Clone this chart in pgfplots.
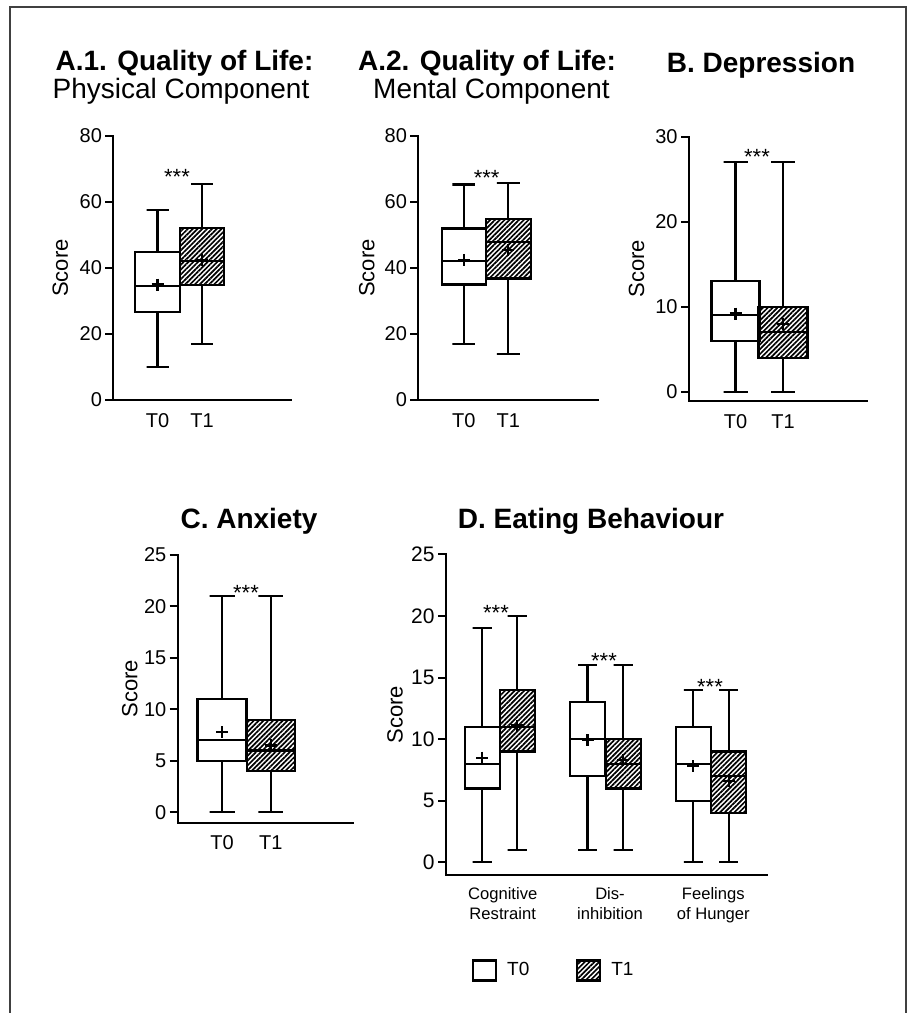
\documentclass[border=0pt]{standalone}
\usepackage{fontspec}
\setmainfont{Liberation Sans}
\usepackage{pgfplots}
\pgfplotsset{compat=1.18}
\usetikzlibrary{patterns.meta}
\def\pxu{0.5bp}
\newcommand\ttlfont{\fontsize{14bp}{17bp}\selectfont}
\tikzset{stars/.style={font=\fontsize{11bp}{13bp}\selectfont, anchor=base, yshift=-6.4bp, inner sep=0pt},
  hatch/.style={pattern={Lines[angle=45,distance=1.7bp,line width=0.85bp]}}}
\pgfplotsset{
  gp/.style={
    scale only axis,
    axis x line*=bottom, axis y line*=left,
    axis line style={line width=1bp, line cap=rect},
    tick style={line width=1bp, black},
    xtick style={draw=none},
    tick align=outside,
    major tick length=4bp,
    /pgf/number format/assume math mode=true,
    tick label style={font=\fontsize{10bp}{12bp}\selectfont},
    yticklabel style={inner sep=1.5bp},
    xticklabel style={inner sep=2bp, text height=7.3bp, text depth=0bp},
    label style={font=\fontsize{11bp}{13bp}\selectfont},
    clip=false,
    xmin=0,
  },
  wl/.style={draw=black, line width=1.1bp, mark=none, solid, forget plot},
  t0/.style={draw=black, line width=1.1bp, mark=none, fill=white, solid, line join=miter, forget plot},
  t1/.style={draw=black, line width=1.1bp, mark=none, solid, line join=miter, forget plot, hatch},
  meanmk/.style={only marks, mark=+, mark size=3bp, black, mark options={line width=1.1bp}, forget plot},
}
% \bx{style}{position}{half box width}{half cap width}{lower whisker}{Q1}{median}{Q3}{upper whisker}
\newcommand\bx[9]{%
  \pgfmathsetmacro\xa{#2-#3}\pgfmathsetmacro\xb{#2+#3}%
  \pgfmathsetmacro\ca{#2-#4}\pgfmathsetmacro\cb{#2+#4}%
  \edef\bxtmp{%
    \noexpand\addplot[wl] coordinates {(#2,#8) (#2,#9) (\ca,#9) (\cb,#9)};
    \noexpand\addplot[wl] coordinates {(#2,#6) (#2,#5) (\ca,#5) (\cb,#5)};
    \noexpand\addplot[#1] coordinates {(\xa,#6) (\xb,#6) (\xb,#8) (\xa,#8)} -- cycle;
    \noexpand\addplot[wl] coordinates {(\xa,#7) (\xb,#7)};
  }\bxtmp}
\newcommand\lgbox[1]{\draw[line width=1.1bp, #1] (0bp,-5bp) rectangle (11.5bp,5bp);}
\begin{document}
\begin{tikzpicture}
\path[use as bounding box] (0,0) rectangle (912*\pxu,-1013*\pxu);
\draw[line width=0.75bp, black!75] (10*\pxu,-1013*\pxu) -- (10*\pxu,-7*\pxu) -- (906*\pxu,-7*\pxu) -- (906*\pxu,-1013*\pxu);

% Titles
\node[font=\ttlfont\bfseries, anchor=base] at (184.5*\pxu,-70*\pxu) {A.1. Quality of Life:};
\node[font=\ttlfont, anchor=base] at (181*\pxu,-98*\pxu) {Physical Component};
\node[font=\ttlfont\bfseries, anchor=base] at (487*\pxu,-70*\pxu) {A.2. Quality of Life:};
\node[font=\ttlfont, anchor=base] at (491.5*\pxu,-98*\pxu) {Mental Component};
\node[font=\ttlfont\bfseries, anchor=base] at (761*\pxu,-72*\pxu) {B. Depression};
\node[font=\ttlfont\bfseries, anchor=base] at (249*\pxu,-528*\pxu) {C. Anxiety};
\node[font=\ttlfont\bfseries, anchor=base] at (591*\pxu,-528*\pxu) {D. Eating Behaviour};

% A.1
\begin{axis}[gp, at={(113.3*\pxu,-400*\pxu)}, anchor=south west,
  width=177.7*\pxu, height=264*\pxu, xmax=177.7, ymin=0, ymax=80,
  ytick={0,20,40,60,80}, xtick={44.2,88.7}, xticklabels={T0,T1},
  ylabel={Score}, ylabel style={at={(axis description cs:0,0.5)}, anchor=center, yshift=26.5bp}]
\bx{t0}{44.2}{22.5}{11}{10}{26.6}{34.5}{44.9}{57.6}
\bx{t1}{88.7}{22}{11}{17}{34.8}{42.1}{52.2}{65.5}
\addplot[meanmk] coordinates {(44.2,35) (88.7,42.5)};
\node[stars] at (axis cs:63.7,69.1) {***};
\end{axis}

% A.2
\begin{axis}[gp, at={(418.3*\pxu,-400*\pxu)}, anchor=south west,
  width=179.4*\pxu, height=264*\pxu, xmax=179.4, ymin=0, ymax=80,
  ytick={0,20,40,60,80}, xtick={45.5,90}, xticklabels={T0,T1},
  ylabel={Score}, ylabel style={at={(axis description cs:0,0.5)}, anchor=center, yshift=25.8bp}]
\bx{t0}{45.5}{22.2}{11.5}{17}{35}{42.2}{52}{65.3}
\bx{t1}{90}{22.4}{11.5}{14}{36.8}{47.8}{54.8}{65.8}
\addplot[meanmk] coordinates {(45.5,42.5) (90,45.5)};
\node[stars] at (axis cs:68.4,68.9) {***};
\end{axis}

% B
\begin{axis}[gp, at={(689*\pxu,-401*\pxu)}, anchor=south west,
  width=177.7*\pxu, height=264.3*\pxu, xmax=177.7, ymin=-1.09, ymax=30,
  ytick={0,10,20,30}, xtick={46.5,94}, xticklabels={T0,T1},
  ylabel={Score}, ylabel style={at={(axis description cs:0,0.5)}, anchor=center, yshift=26.2bp}]
\bx{t0}{46.5}{24}{12}{0}{6}{9}{13}{27}
\bx{t1}{94}{24.5}{12}{0}{4}{7}{10}{27}
\addplot[meanmk] coordinates {(46.5,9.2) (94,8)};
\node[stars] at (axis cs:68,28.2) {***};
\end{axis}

% C
\begin{axis}[gp, at={(177.7*\pxu,-822.7*\pxu)}, anchor=south west,
  width=175.3*\pxu, height=267.7*\pxu, xmax=175.3, ymin=-1.01, ymax=25,
  ytick={0,5,10,15,20,25}, xtick={44.3,93.2}, xticklabels={T0,T1},
  ylabel={Score}, ylabel style={at={(axis description cs:0,0.5)}, anchor=center, yshift=23.9bp}]
\bx{t0}{44.3}{24.5}{12.5}{0}{5}{7}{11}{21}
\bx{t1}{93.2}{24}{12.5}{0}{4}{6}{9}{21}
\addplot[meanmk] coordinates {(44.3,7.8) (93.2,6.5)};
\node[stars] at (axis cs:68.3,21.8) {***};
\end{axis}

% D
\begin{axis}[gp, at={(446*\pxu,-875*\pxu)}, anchor=south west,
  width=320.7*\pxu, height=320.7*\pxu, xmax=320.7, ymin=-1.03, ymax=25,
  ytick={0,5,10,15,20,25}, xtick={56.7,164,267.3},
  xticklabels={{Cognitive\\Restraint},{Dis-\\inhibition},{Feelings\\of Hunger}},
  yticklabel style={font=\fontsize{10.5bp}{12bp}\selectfont},
  xticklabel style={align=center, text height={}, text depth={}, font=\fontsize{8.3bp}{10bp}\selectfont},
  ylabel={Score}, ylabel style={at={(axis description cs:0,0.5)}, anchor=center, yshift=25.5bp},
  legend style={draw=none, fill=none, at={(0.08,-0.298)}, anchor=west, inner sep=0pt,
    font=\fontsize{9.5bp}{11bp}\selectfont,
    /tikz/every odd column/.append style={column sep=3bp},
    /tikz/every even column/.append style={column sep=21.4bp}},
  legend columns=2, legend cell align=left]
\addlegendimage{legend image code/.code={\lgbox{fill=white}}}
\addlegendentry{T0}
\addlegendimage{legend image code/.code={\lgbox{hatch}}}
\addlegendentry{T1}
\bx{t0}{36.2}{17.5}{9.5}{0}{6}{8}{11}{19}
\bx{t1}{71.2}{17.5}{9.5}{1}{9}{11}{14}{20}
\bx{t0}{141.5}{17.5}{9.5}{1}{7}{10}{13}{16}
\bx{t1}{177.2}{17.5}{9.5}{1}{6}{8}{10}{16}
\bx{t0}{247.3}{17.5}{9.5}{0}{5}{8}{11}{14}
\bx{t1}{282.7}{17.5}{9.5}{0}{4}{7}{9}{14}
\addplot[meanmk] coordinates {(36.2,8.5) (71.2,11.1) (141.5,9.9) (177.2,8.3) (247.3,7.8) (282.7,6.6)};
\node[stars] at (axis cs:50,20.7) {***};
\node[stars] at (axis cs:158,16.8) {***};
\node[stars] at (axis cs:264,14.7) {***};
\end{axis}
\end{tikzpicture}
\end{document}
